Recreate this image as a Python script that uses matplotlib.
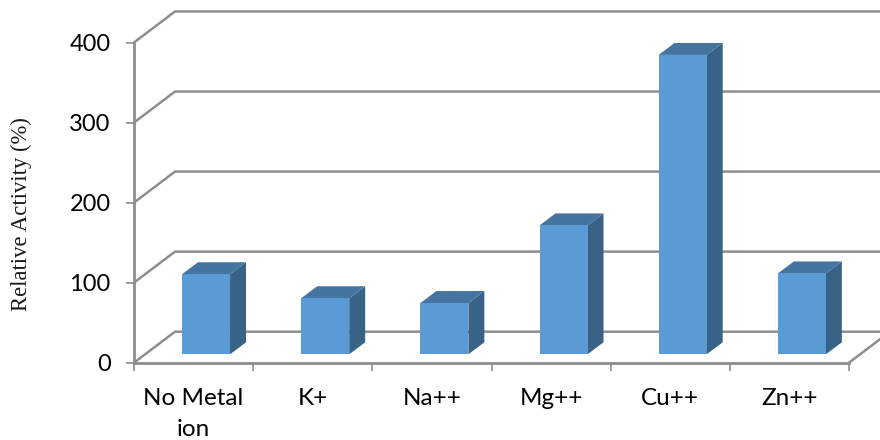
import numpy as np
import matplotlib
matplotlib.use("Agg")
import matplotlib.pyplot as plt
from matplotlib.patches import Polygon

## data ##
categories = ["No Metal\nion", "K+", "Na++", "Mg++", "Cu++", "Zn++"]
activity = [100, 70, 64, 161, 374, 101]
y_ticks = [0, 100, 200, 300, 400]

## fake 3d offsets, in data units ##
wall_dx, wall_dy = 0.344, 38.75
bar_dx, bar_dy = 0.134, 15
bar_left, bar_width, bar_base = 0.403, 0.403, 10.5

grid_color = "#8e8e8e"
front_color = "#5b9bd5"
top_color = "#4674a0"
side_color = "#386286"

fig = plt.figure(figsize=(8.8, 4.4), dpi=100)
ax = fig.add_axes([134 / 880, 1 - 362.7 / 440, 715 / 880, 320.2 / 440])
ax.set_xlim(0, 6)
ax.set_ylim(0, 400)

for name in ["top", "right"]:
    ax.spines[name].set_visible(False)
for name in ["left", "bottom"]:
    ax.spines[name].set_color(grid_color)
    ax.spines[name].set_linewidth(2.0)

# walls: one diagonal and one back line per gridline
for v in y_ticks:
    ax.plot([0, wall_dx, 6 + wall_dx], [v, v + wall_dy, v + wall_dy],
            color=grid_color, lw=1.8, clip_on=False, zorder=1, solid_joinstyle="miter")
ax.plot([6, 6 + wall_dx], [0, wall_dy], color=grid_color, lw=1.8, clip_on=False, zorder=1)

# bars
for i, v in enumerate(activity):
    x0 = i + bar_left
    x1 = x0 + bar_width
    y0 = bar_base
    y1 = bar_base + v
    ax.add_patch(Polygon([(x1, y0), (x1 + bar_dx, y0 + bar_dy), (x1 + bar_dx, y1 + bar_dy), (x1, y1)],
                         facecolor=side_color, edgecolor="none", zorder=3))
    ax.add_patch(Polygon([(x0, y1), (x0 + bar_dx, y1 + bar_dy), (x1 + bar_dx, y1 + bar_dy), (x1, y1)],
                         facecolor=top_color, edgecolor="none", zorder=3))
    ax.add_patch(Polygon([(x0, y0), (x1, y0), (x1, y1), (x0, y1)],
                         facecolor=front_color, edgecolor="none", zorder=4))

# ticks
ax.set_yticks(y_ticks)
ax.tick_params(axis="y", length=5.8, width=1.2, color=grid_color, pad=11,
               labelsize=17, labelfontfamily="Lato", labelcolor="black")
ax.set_xticks(range(7))
ax.set_xticklabels([])
ax.tick_params(axis="x", which="major", length=5.8, width=1.2, color=grid_color)
ax.set_xticks(np.arange(6) + 0.5, minor=True)
ax.set_xticklabels(categories, minor=True, fontfamily="Lato", fontsize=17.5, linespacing=1.62)
ax.tick_params(axis="x", which="minor", length=0, pad=18)

fig.text(21 / 880, 1 - 214.5 / 440, "Relative Activity (%)", rotation=90, ha="center", va="center",
         fontfamily="Liberation Serif", fontsize=16.3, color="#1a1a1a")

fig.savefig("out.png", dpi=100)
